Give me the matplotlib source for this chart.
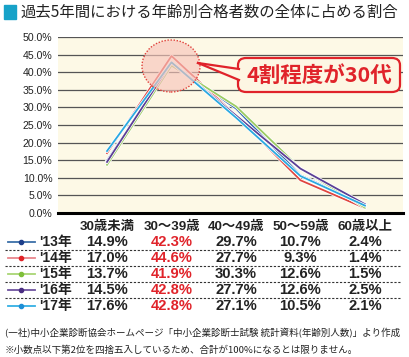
import matplotlib
matplotlib.use("Agg")
import matplotlib.pyplot as plt
import matplotlib.patheffects as pe
from matplotlib.patches import Ellipse, FancyBboxPatch, Rectangle, Polygon
from matplotlib.transforms import blended_transform_factory

# データ
categories = ["30歳未満", "30～39歳", "40～49歳", "50～59歳", "60歳以上"]
years = ["'13年", "'14年", "'15年", "'16年", "'17年"]
r13 = [14.9, 42.3, 29.7, 10.7, 2.4]
r14 = [17.0, 44.6, 27.7, 9.3, 1.4]
r15 = [13.7, 41.9, 30.3, 12.6, 1.5]
r16 = [14.5, 42.8, 27.7, 12.6, 2.5]
r17 = [17.6, 42.8, 27.1, 10.5, 2.1]
series = [r13, r14, r15, r16, r17]
yticks = [0, 5, 10, 15, 20, 25, 30, 35, 40, 45, 50]

line_colors = ["#2f66b0", "#e0463f", "#9ccb62", "#5b3f95", "#2aa9e0"]
dot_colors = ["#1d3f8a", "#e02327", "#7fbf3a", "#4a2d82", "#1e8fd6"]
legend_line = ["#3b6fa8", "#e8868c", "#a9d675", "#6e539f", "#35b0e4"]

W, H = 410, 357
JP = ["Liberation Sans", "Noto Sans CJK JP"]
plt.rcParams["font.family"] = JP

fig = plt.figure(figsize=(W / 100, H / 100), dpi=100)


def fx(px):
    return px / W


def fy(py):
    return 1 - py / H


# タイトル
fig.patches.append(Rectangle((fx(4), fy(19)), fx(12), 14 / H,
                             transform=fig.transFigure, color="#17a2c8"))
fig.text(fx(20), fy(12), "過去5年間における年齢別合格者数の全体に占める割合",
         fontsize=11.1, va="center", ha="left", color="#222222",
         family=["Noto Sans CJK JP"])

# グラフ
ax = fig.add_axes([fx(58), fy(213), fx(403) - fx(58), (213 - 37) / H])
ax.set_facecolor("#fdf9e6")
x = list(range(len(categories)))
ax.set_xlim(-0.76, 4.59)
ax.set_ylim(0, 50)

for t in yticks[1:]:
    ax.axhline(t, color="#555555", lw=0.9, zorder=1)
ax.axhline(0, color="black", lw=2.2, zorder=5, clip_on=False)

for vals, c in zip(series, line_colors):
    ax.plot(x, vals, color=c, lw=1.3, zorder=3,
            path_effects=[pe.Stroke(linewidth=2.4, foreground="white"), pe.Normal()])

ax.set_yticks(yticks)
ax.set_yticklabels([f"{t:.1f}%" for t in yticks], fontsize=7.6, color="#222222")
ax.set_xticks([])
ax.tick_params(axis="y", length=0, pad=4)
for s in ax.spines.values():
    s.set_visible(False)

# 円と吹き出し
fig.patches.append(Ellipse((fx(171), fy(66)), 58 / W, 52 / H,
                           transform=fig.transFigure, facecolor="#f7c4ba", alpha=0.65,
                           edgecolor="none", zorder=2))
fig.patches.append(Ellipse((fx(171), fy(66)), 58 / W, 52 / H,
                           transform=fig.transFigure, facecolor="none",
                           edgecolor="#e0403a", lw=1.0, ls=(0, (1, 1.2)), zorder=6))
fig.patches.append(FancyBboxPatch((fx(238), fy(92)), fx(400) - fx(238), 34 / H,
                                  boxstyle="round,pad=0,rounding_size=0.02",
                                  transform=fig.transFigure, facecolor="#fdf6e3",
                                  edgecolor="#e0232a", lw=1.6, zorder=6))
fig.patches.append(Polygon([(fx(198), fy(63)), (fx(240), fy(69)), (fx(240), fy(80))],
                           closed=True, transform=fig.transFigure,
                           facecolor="#fdf6e3", edgecolor="none", zorder=7))
fig.lines.append(plt.Line2D([fx(198), fx(239)], [fy(63), fy(69)], transform=fig.transFigure,
                            color="#e0232a", lw=1.6, zorder=8))
fig.lines.append(plt.Line2D([fx(198), fx(239)], [fy(63), fy(80)], transform=fig.transFigure,
                            color="#e0232a", lw=1.6, zorder=8))
fig.text(fx(319), fy(75), "4割程度が30代", fontsize=15.5, fontweight="bold",
         color="#e0232a", ha="center", va="center", zorder=9,
         family=["Noto Sans CJK JP"])

# 表
tr = blended_transform_factory(ax.transData, fig.transFigure)
for i, cat in enumerate(categories):
    fig.text(i, fy(227), cat, transform=tr, ha="center", va="center",
             fontsize=9.6, fontweight="bold", color="#222222")

row_y = [242, 258, 274, 290, 306]
for r, (yr, vals) in enumerate(zip(years, series)):
    yy = fy(row_y[r])
    fig.lines.append(plt.Line2D([fx(8), fx(35)], [yy, yy], transform=fig.transFigure,
                                color=legend_line[r], lw=1.3))
    fig.lines.append(plt.Line2D([fx(21.5)], [yy], transform=fig.transFigure,
                                marker="o", ms=3, color=dot_colors[r], lw=0))
    fig.text(fx(39), yy, yr, ha="left", va="center", fontsize=10,
             fontweight="bold", color="#222222")
    for i, v in enumerate(vals):
        col = "#e0232a" if i == 1 else "#222222"
        fig.text(i, yy, f"{v:.1f}%", transform=tr, ha="center", va="center",
                 fontsize=10.6, fontweight="bold", color=col)
    if r < len(years) - 1:
        sy = fy(row_y[r] + 8)
        fig.lines.append(plt.Line2D([fx(5), fx(400)], [sy, sy], transform=fig.transFigure,
                                    color="#333333", lw=0.8, ls=(0, (2, 1.5))))

# 注記
fig.text(fx(5), fy(333), "(一社)中小企業診断協会ホームページ「中小企業診断士試験 統計資料(年齢別人数)」より作成",
         fontsize=6.85, ha="left", va="center", color="#222222", family=["Noto Sans CJK JP"])
fig.text(fx(5), fy(350), "※小数点以下第2位を四捨五入しているため、合計が100%になるとは限りません。",
         fontsize=6.85, ha="left", va="center", color="#222222", family=["Noto Sans CJK JP"])

fig.savefig("out.png", dpi=100, facecolor="white")
